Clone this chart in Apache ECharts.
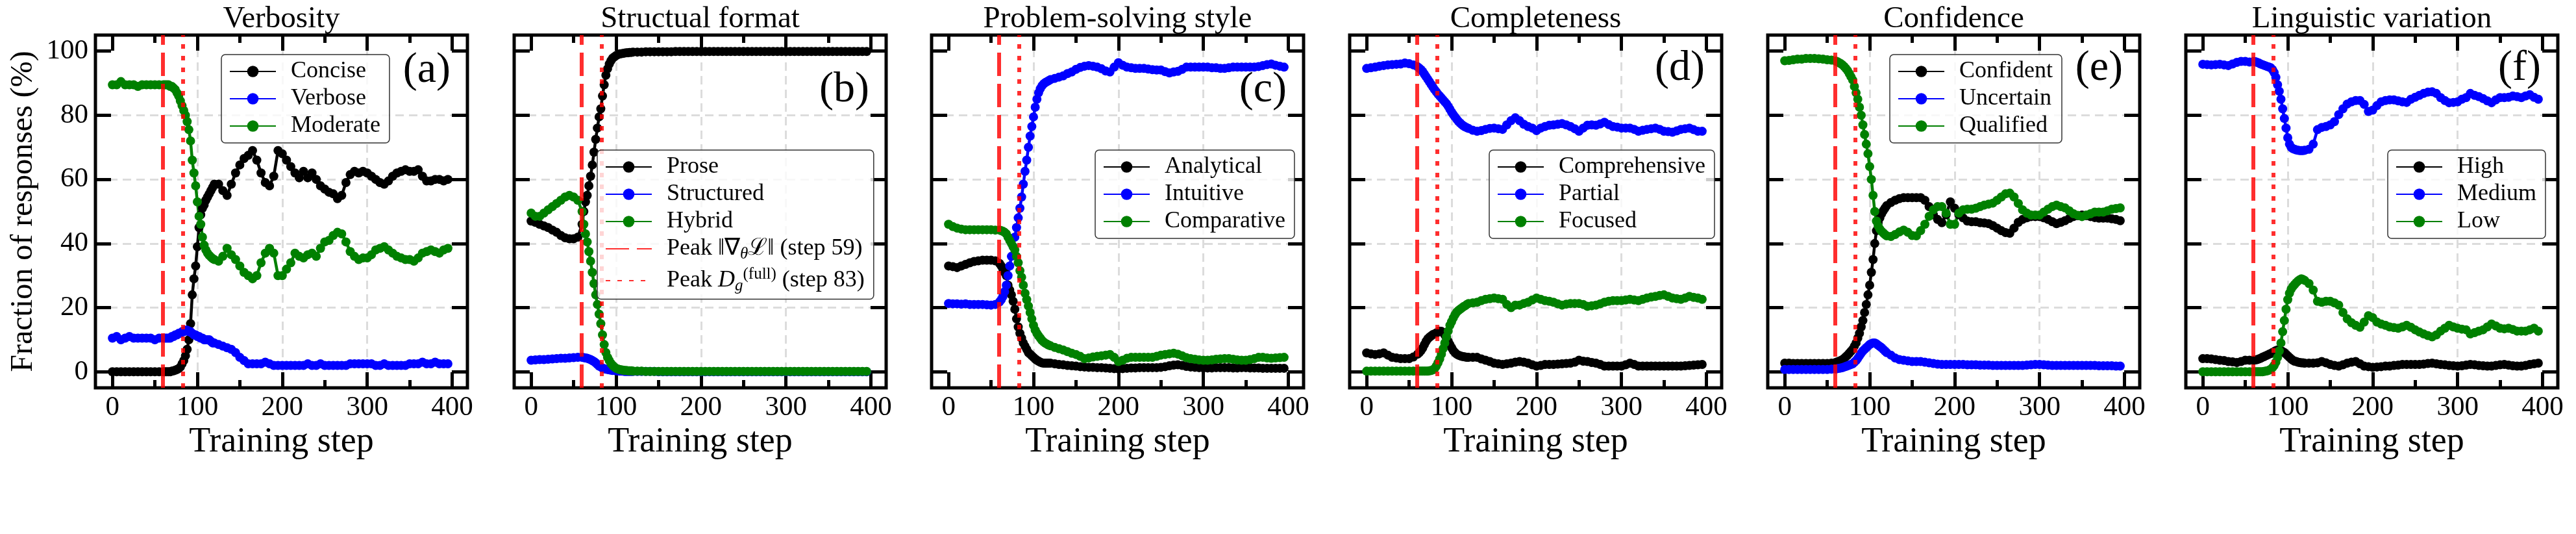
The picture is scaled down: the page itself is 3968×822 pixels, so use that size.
<!DOCTYPE html>
<html>
<head>
<meta charset="UTF-8">
<title>Response style fractions during training</title>
<script src="https://cdn.jsdelivr.net/npm/echarts@6/dist/echarts.min.js"></script>
<style>
    html, body { margin: 0; padding: 0; background: #fff; }
    #chart { width: 3968px; height: 822px; }
</style>
</head>
<body>
<div id="chart"></div>
<script>
// training steps at which every curve is sampled
var steps = [0,5,10,15,20,25,30,35,40,45,50,55,60,
    62,64,66,68,70,72,74,76,78,80,
    82,84,86,88,90,92,94,96,98,100,
    102,104,106,108,110,112,114,116,118,120,
    125,130,135,140,145,150,155,160,165,170,175,
    180,185,190,195,200,205,210,215,220,225,230,
    235,240,245,250,255,260,265,270,275,280,285,
    290,295,300,305,310,315,320,325,330,335,340,
    345,350,355,360,365,370,375,380,385,390,395];

// (a) Verbosity
var concise = [0,0,0,0,0,0,0,0,0,0,0,0,0,
    0,0,0,0,0.2,0.3,0.5,0.7,1,1.5,
    2.5,3.5,5,7,10,15,24,29,33,39,
    45,49,51,52,53.5,54.5,55.5,56.5,57.5,58.5,
    58.5,56.5,55,58.5,62,64.5,66.5,67.5,69,66,62,
    59,58,61,69,68,66,64,62,60.5,62.5,60.5,
    62,60,58,57,56,55.5,54,55,59,61.5,62.5,
    62,62.5,62,61,60,59,58.5,59.5,61,62,62.5,
    63,62.5,62.5,63,61,59.5,59.5,60,60,59.5,60];
var verbose = [10.5,11,10,10.5,11,10.5,10.5,10.5,10.5,10.5,10,10.5,10.5,
    10.5,10.5,10.5,10.5,11,11,11.5,11.5,12,12,
    12.5,12.5,13,13,12.5,12.5,12,11.5,11.5,11,
    11,10.5,10.5,10,10,10,10,9.5,9,9,
    8.5,8,7.5,7,6,4.5,3.5,2.5,2.5,2.5,2.5,
    3,2.5,2,2,2,2,2,2,2,2,2.5,
    2,2,2.5,2,2,2,2,2,2,2.5,2.5,
    2.5,2.5,2.5,2.5,2,2,2.5,2,2,2,2,
    2,2.5,2.5,2.5,3,2.5,2.5,3,2.5,2.5,2.5];
var moderate = [89.5,89.5,90.5,89.5,89.5,89.5,89,89.5,89.5,89.5,89.5,89.5,89.5,
    89.5,89.5,89.5,89,89,88.5,88,87,86,84.5,
    83,81.5,80,78,75.5,72,66,62,58,53,
    48.5,46,42,39.5,38,37,36.3,35.8,35.3,35,
    34.5,36,38.5,36.5,35,33,31,30,29,30,34,
    37,38.5,37,30,30,32,34,37,36,35.5,36.5,
    37,36,38.5,40.5,41,42.5,43.5,43,40.5,37.5,36,
    35,35.5,35.5,36.5,38,38.5,39,38,37,36,35.5,
    35,35,34.5,35.5,37,37.5,38,37.5,37,38,38.5];

// (b) Structual format
var prose = [47,46.6,46,45.5,45,44.2,43.5,42.5,41.8,41.5,41.5,42,46,
    50,53,55,58,61,64.5,68.5,72.5,76,79.5,
    82,86,89.5,92.5,94.5,96,97,97.8,98.2,98.6,
    98.9,99.1,99.2,99.3,99.4,99.5,99.5,99.6,99.6,99.7,
    99.7,99.7,99.8,99.8,99.8,99.8,99.8,99.8,99.8,99.9,99.9,
    99.9,99.9,99.9,99.9,99.9,99.9,99.9,99.9,99.9,99.9,99.9,
    99.9,99.9,99.9,99.9,99.9,99.9,99.9,99.9,99.9,99.9,99.9,
    99.9,99.9,99.9,99.9,99.9,99.9,99.9,99.9,99.9,99.9,99.9,
    99.9,99.9,99.9,99.9,99.9,99.9,99.9,99.9,99.9,99.9,99.9];
var structured = [3.6,3.7,3.8,3.8,3.9,4,4.1,4.2,4.2,4.3,4.4,4.5,4.5,
    4.4,4.3,4.2,4,3.8,3.5,3.2,2.8,2.3,1.8,
    1.5,1.2,1,0.8,0.7,0.6,0.5,0.4,0.4,0.3,
    0.3,0.2,0.2,0.2,0.1,0.1,0.1,0.1,0.1,0.1,
    0.1,0.1,0.1,0.1,0.1,0,0,0,0,0,0,
    0,0,0,0,0,0,0,0,0,0,0,
    0,0,0,0,0,0,0,0,0,0,0,
    0,0,0,0,0,0,0,0,0,0,0,
    0,0,0,0,0,0,0,0,0,0,0];
var hybrid = [49.5,48.5,48.5,49.5,50.5,51.5,52.5,53.5,54.5,55,54.5,53.5,50,
    46,43,40.5,37.5,34.5,31,27.5,24,21,18,
    15,11.5,8.5,6,4.5,3.5,2.6,2,1.5,1.1,
    0.9,0.7,0.6,0.5,0.4,0.4,0.3,0.3,0.3,0.2,
    0.2,0.2,0.1,0.1,0.1,0.1,0.1,0.1,0.1,0.1,0.1,
    0.1,0.1,0.1,0.1,0.1,0.1,0.1,0.1,0.1,0.1,0.1,
    0.1,0.1,0.1,0.1,0.1,0.1,0.1,0.1,0.1,0.1,0.1,
    0.1,0.1,0.1,0.1,0.1,0.1,0.1,0.1,0.1,0.1,0.1,
    0.1,0.1,0.1,0.1,0.1,0.1,0.1,0.1,0.1,0.1,0.1];

// (c) Problem-solving style
var analytical = [33,32.8,32.5,33,33.5,34,34.4,34.6,34.8,34.8,34.8,34.6,33.8,
    33,32,31,30,27,25.5,24,22,19.5,16.5,
    14,12,10.5,9,8,7,6,5.5,5,4.5,
    4,3.6,3.3,3,2.8,2.7,2.7,2.7,2.7,2.7,
    2.5,2.3,2.2,2,1.9,1.8,1.6,1.5,1.4,1.4,1.3,
    1.3,1.2,1.1,1,0.9,1,1.1,1.2,1.2,1.3,1.3,
    1.3,1.3,1.3,1.4,1.6,1.9,2.1,2.2,2,1.7,1.5,
    1.4,1.3,1.2,1.2,1.2,1.3,1.3,1.3,1.3,1.2,1.2,
    1.3,1.3,1.2,1.2,1.2,1.1,1.1,1.1,1.1,1.1,1.1];
var intuitive = [21.3,21.2,21.2,21.1,21.2,21,21,21,21,20.9,20.8,21,21.8,
    22.5,23.5,25,27,30,33,36,39,42,45,
    48,51,54.5,58.5,62.5,66,70,73.5,76.5,79.5,
    82.5,85,87,88.3,89.2,89.8,90.2,90.5,90.8,91.1,
    91.5,91.9,92.3,93,93.5,94.3,94.9,95.3,95.5,95.3,95,
    94.5,93.8,93.5,95,96.4,95.6,95,94.8,94.6,94.6,94.6,
    94.4,94.2,94.1,94.1,93.6,93.2,93.5,93.7,94.3,95,95,
    95,95,95,95,94.8,94.8,94.6,94.6,94.8,95,95,
    95,95,95,95,95.2,95.5,95.8,96,95.6,95.3,95];
var comparative = [46,45.3,44.8,44.5,44.3,44.3,44.3,44.3,44.3,44.3,44.3,44.2,44.2,
    44,43.8,43.5,43,42,41,40,39,38,36,
    34,31.5,29.5,27,24.5,22.5,20.5,18.5,16.5,14.5,
    13,12,11.2,10.5,9.8,9.3,8.9,8.6,8.3,8.1,
    7.6,7.2,6.8,6.3,5.8,5.4,4.8,4.1,4.3,4.6,4.8,
    5,5.2,5.4,4.5,3.2,3.6,4.2,4.5,4.5,4.5,4.5,
    4.5,4.5,4.8,5.2,5.4,5.6,5.8,5.5,5,4.4,4.1,
    3.9,3.7,3.6,3.6,3.7,3.9,4,4.1,4.1,3.9,3.7,
    3.6,3.6,3.8,4.1,4.5,4.5,4.3,4.2,4.3,4.4,4.5];

// (d) Completeness
var comprehensive = [5.9,5.6,5.4,5.6,5.9,5.2,4.5,4.3,4.1,4.1,4.1,4.6,5.5,
    6,6.6,7.4,8.5,9.5,10.3,10.8,11.2,11.6,11.8,
    12.1,12.4,12.7,12.6,12.2,11.5,10.5,9.5,8.5,7.5,
    6.6,6,5.5,5.2,5,4.8,4.7,4.6,4.5,4.5,
    4.5,4.5,4,3.6,3.2,2.7,2.5,2.3,2.5,2.7,3,
    3.2,3,2.7,2.2,1.8,2,2.3,2.3,2.3,2.4,2.5,
    2.6,2.7,3,3.6,3.3,3.2,2.9,2.7,2.3,1.8,1.8,
    1.8,1.8,1.8,2.2,2.7,2.3,1.8,1.8,1.8,1.8,1.8,
    1.8,1.8,1.8,1.8,1.8,1.8,1.9,2,2.1,2.2,2.3];
var partial = [94.6,94.8,95,95.3,95.5,95.7,95.8,95.9,96,96.3,96.1,95.7,95.1,
    94.7,94.2,93.6,92.8,92,91.2,90.4,89.6,88.8,88,
    87.3,86.6,86,85.4,84.8,84.2,83.6,82.8,81.9,81,
    80.2,79.5,78.8,78.1,77.6,77.1,76.7,76.4,76.1,75.9,
    75.3,75,75.2,75.6,75.9,76,75.8,75.6,77,78.3,79.2,
    78.3,77.2,76.5,76,75.2,76,76.5,76.9,77,77.2,77.4,
    77,76.5,75.8,75,76,76.9,77,76.9,77.3,77.8,77.1,
    76.5,76.3,76,76,76,75.6,75,75.3,75.6,75.8,76,
    75.6,75,74.9,74.7,75.1,75.6,75.8,76,75.5,75,75];
var focused = [0.2,0.2,0.2,0.2,0.2,0.2,0.2,0.2,0.2,0.2,0.2,0.2,0.2,
    0.2,0.2,0.2,0.2,0.2,0.2,0.3,0.4,0.6,1,
    1.8,2.8,4,5.5,7.2,9,10.9,12.7,14.5,15.6,
    16.8,17.8,18.6,19.1,19.5,19.9,20.3,20.6,21,21.3,
    21.5,21.7,22.2,22.6,22.8,23,22.8,22.6,21,20,20.8,
    20.8,21.3,21.7,22.4,23,22.6,22.2,22,21.7,21.2,20.8,
    21.1,21.3,21.3,21.3,21,20.4,20.6,20.8,21.2,21.7,22,
    22.2,22.2,22.2,22.4,22.6,22.4,22.2,22.6,23,23.3,23.5,
    23.8,24,23.5,23,22.8,22.6,23,23.5,23.2,23,22.6];

// (e) Confidence
var confident = [2.7,2.7,2.6,2.6,2.6,2.6,2.6,2.6,2.6,2.6,2.6,2.7,2.9,
    3.1,3.3,3.5,3.8,4.2,4.7,5.2,5.8,6.4,7,
    8,9,10.5,12,14,16,18.5,21,24,27,
    31,35,40,44,46.5,48,49.3,50.2,51,51.8,
    52.8,53.5,54,54.3,54.3,54.3,54.3,54.3,53.5,51.5,49,
    47.5,46.5,49,53,51,49,48,47,46.8,46.8,46.5,
    46.4,46.2,45.6,44.8,44,43.4,43.2,44.8,46.6,47.5,48,
    48.4,48.4,48.4,48,47.5,46.8,46.2,46.6,47.1,47.8,48.4,
    48.7,48.9,48.7,48.4,48.1,47.9,47.9,47.9,47.7,47.5,47.1];
var uncertain = [0.7,0.7,0.7,0.7,0.7,0.7,0.7,0.7,0.7,0.7,0.7,0.8,0.9,
    1,1.1,1.2,1.3,1.5,1.7,1.9,2.1,2.3,2.5,
    3,3.5,4.2,5,5.8,6.5,7,7.5,8,8.5,
    8.8,9,9,8.7,8.3,7.9,7.5,7,6.5,6,
    5.2,4.3,3.8,3.6,3.4,3.2,3.2,3.2,3,2.8,2.6,
    2.4,2.3,2.3,2.3,2.3,2.3,2.3,2.2,2.2,2.2,2.1,
    2.1,2.1,2,2,2,2,2,2,2,2,2.1,
    2.2,2.3,2.3,2.2,2.1,2,2,2,2,2,2,
    2,2,2,2,2,1.9,1.9,1.9,1.9,1.8,1.8];
var qualified = [97,97.1,97.3,97.5,97.5,97.7,97.7,97.7,97.6,97.5,97.3,97.2,96.9,
    96.7,96.4,96.1,95.7,95.2,94.6,93.9,93,92,91,
    89,87,85,82.5,80,77,74,71,68,64,
    60,55,50,47,45.5,44.5,43.8,43.3,42.8,42.4,
    42.2,42.8,43.6,44.2,43.5,42.5,42.4,44,46,48.5,50.5,
    51.5,51.5,49.5,46,46,49.5,50.5,50.7,50.7,51,51.5,
    52,52.3,52.6,53.5,54.5,55.5,55.7,54.5,52.5,50.5,49.5,
    48.9,48.9,48.9,49.8,50.7,51.5,52,51.5,51.1,50.2,49.3,
    48.8,48.4,48.9,49.3,49.8,49.8,49.8,50.2,50.7,50.9,51.1];

// (f) Linguistic variation
var high = [4.1,4.1,4,3.8,3.6,3.5,3.2,3.1,2.9,3.2,3.6,3.6,3.6,
    3.7,3.8,4,4.2,4.5,4.7,5,5.2,5.5,5.7,
    6,6.3,6.6,6.8,6.8,6.6,6.3,6,5.5,5,
    4.5,4,3.6,3.3,3.2,3,2.9,2.8,2.8,2.7,
    2.7,2.7,2.8,3.2,2.8,2.3,2,1.8,2.2,2.7,3,
    3.2,2.5,1.8,1.6,1.4,1.5,1.6,1.8,1.8,2,2.1,
    2.3,2.3,2.3,2.3,2.3,2.4,2.6,2.7,2.5,2.3,2.2,
    2,1.9,1.8,1.9,2.1,2.3,2.2,2,1.9,1.8,1.8,
    2,2.2,2.3,2.1,1.9,1.8,1.8,2,2.3,2.5,2.7];
var medium = [95.9,95.8,95.7,95.8,95.9,95.7,95.5,96,96.5,96.8,96.8,96.6,96.8,
    96.7,96.5,96.3,96,95.8,95.6,95.4,95.2,95,94.8,
    94.2,93.3,91.8,89.5,87.5,85,82,79,76,73,
    71,70,69.6,69.4,69.2,69.1,69,69,69,69.1,
    69.4,71,75.5,76.2,76.5,77,78,80.2,82,83.5,84.2,
    84.6,84.6,83.4,81.2,81.6,83,84.2,84.6,84.8,84.8,84.5,
    84.2,84,85,85.6,86.2,86.8,87.2,87.3,86.8,85.5,84.6,
    83.9,84,84.2,85,85.5,86.8,86.2,85.8,85.2,84.5,83.9,
    84.8,85.5,85.5,85.6,86,85.8,85.5,86,86.4,85.6,85];
var low = [0,0,0,0,0,0,0,0,0,0,0,0,0,
    0,0,0,0,0,0.1,0.2,0.3,0.5,0.8,
    1.3,2,3,4.5,6.5,9,12.5,16,19.5,22.5,
    24.5,25.8,26.6,27.2,27.8,28.3,28.7,29,28.8,28.5,
    27.5,25.5,22,21.7,22,22,21.5,20.8,18.5,16.5,15.3,
    14.5,13.9,15.5,17.5,16.9,15.5,14.9,14.5,14,13.8,13.6,
    14,14.5,13.9,13.1,12.4,11.8,11.3,10.9,11.5,12.7,13.6,
    14.5,14,13.6,13.3,13.1,11.8,12.2,12.7,13.1,14,14.9,
    14.3,13.6,13.4,13.6,13.2,12.7,12.7,12.7,13.1,13.6,12.7];

var peakGradStep = 59;
var peakDgStep = 83;
var xTicks = [0, 100, 200, 300, 400];
var xMinorTicks = [50, 150, 250, 350];
var yTicks = [0, 20, 40, 60, 80, 100];

var serif = 'Liberation Serif';
var lineColors = ['#000000', '#0000ff', '#008000'];
var red = 'rgba(255, 0, 0, 0.82)';
var gradName = 'Peak grad (step 59)';
var dgName = 'Peak Dg (step 83)';

var gridLefts = [147, 792, 1435, 2079, 2723, 3367];
var gridTop = 54, gridW = 573, gridH = 543;

var panels = [
    {title: 'Verbosity', tag: '(a)', names: ['Concise', 'Verbose', 'Moderate'],
     values: [concise, verbose, moderate], legendLeft: 341, legendTop: 84, tagTop: 76},
    {title: 'Structual format', tag: '(b)', names: ['Prose', 'Structured', 'Hybrid'],
     values: [prose, structured, hybrid], legendLeft: 920, legendTop: 231, tagTop: 106, peaks: true},
    {title: 'Problem-solving style', tag: '(c)', names: ['Analytical', 'Intuitive', 'Comparative'],
     values: [analytical, intuitive, comparative], legendLeft: 1687, legendTop: 231, tagTop: 106},
    {title: 'Completeness', tag: '(d)', names: ['Comprehensive', 'Partial', 'Focused'],
     values: [comprehensive, partial, focused], legendLeft: 2294, legendTop: 231, tagTop: 73},
    {title: 'Confidence', tag: '(e)', names: ['Confident', 'Uncertain', 'Qualified'],
     values: [confident, uncertain, qualified], legendLeft: 2911, legendTop: 84, tagTop: 73},
    {title: 'Linguistic variation', tag: '(f)', names: ['High', 'Medium', 'Low'],
     values: [high, medium, low], legendLeft: 3678, legendTop: 231, tagTop: 73}
];

function xAxisDef(gi, pos, ticks, len, main) {
    return {
        type: 'value', gridIndex: gi, position: pos, min: -20, max: 418,
        axisLine: {show: false, onZero: false},
        axisTick: {show: true, inside: true, length: len, customValues: ticks,
                   lineStyle: {color: '#000', width: 5}},
        axisLabel: main ? {show: true, customValues: ticks, fontFamily: serif, fontSize: 43,
                           color: '#000', margin: 9} : {show: false},
        splitLine: main ? {show: true, showMinLine: false, showMaxLine: false,
                           lineStyle: {color: '#dcdcdc', width: 3, type: [13, 8]}} : {show: false},
        name: main ? 'Training step' : '',
        nameLocation: 'middle', nameGap: 48,
        nameTextStyle: {fontFamily: serif, fontSize: 54, color: '#000'}
    };
}

function yAxisDef(gi, pos, main, named) {
    return {
        type: 'value', gridIndex: gi, position: pos, min: -5, max: 105,
        axisLine: {show: false, onZero: false},
        axisTick: {show: true, inside: true, length: 24, customValues: yTicks,
                   lineStyle: {color: '#000', width: 5}},
        axisLabel: {show: named, customValues: yTicks, fontFamily: serif, fontSize: 43,
                    color: '#000', margin: 11},
        splitLine: main ? {show: true, showMinLine: false, showMaxLine: false,
                           lineStyle: {color: '#dcdcdc', width: 3, type: [13, 8]}} : {show: false},
        name: named ? 'Fraction of responses (%)' : '',
        nameLocation: 'middle', nameGap: 87,
        nameTextStyle: {fontFamily: serif, fontSize: 48, color: '#000'}
    };
}

function peakSeries(name, step, dash, xi, yi) {
    return {
        type: 'line', name: name, xAxisIndex: xi, yAxisIndex: yi, data: [],
        symbol: 'none', z: 6,
        lineStyle: {color: red, width: 6, type: dash},
        itemStyle: {color: red},
        markLine: {
            silent: true, symbol: ['none', 'none'], label: {show: false},
            lineStyle: {color: red, width: 6, type: dash},
            data: [{xAxis: step}]
        }
    };
}

var grids = [], xAxes = [], yAxes = [], series = [], legends = [], titles = [];

panels.forEach(function (p, i) {
    var left = gridLefts[i];
    grids.push({left: left, top: gridTop, width: gridW, height: gridH,
                show: true, borderColor: '#000', borderWidth: 5, backgroundColor: 'transparent'});
    var xi = xAxes.length, yi = yAxes.length;
    xAxes.push(xAxisDef(i, 'bottom', xTicks, 24, true));
    xAxes.push(xAxisDef(i, 'bottom', xMinorTicks, 12, false));
    xAxes.push(xAxisDef(i, 'top', xTicks, 24, false));
    xAxes.push(xAxisDef(i, 'top', xMinorTicks, 12, false));
    yAxes.push(yAxisDef(i, 'left', true, i === 0));
    yAxes.push(yAxisDef(i, 'right', false, false));

    p.values.forEach(function (vals, k) {
        series.push({
            type: 'line', name: p.names[k], xAxisIndex: xi, yAxisIndex: yi,
            data: steps.map(function (s, j) { return [s, vals[j]]; }),
            symbol: 'circle', symbolSize: 14, showSymbol: true, z: 3,
            lineStyle: {color: lineColors[k], width: 4.5},
            itemStyle: {color: lineColors[k]}
        });
    });
    series.push(peakSeries(gradName, peakGradStep, [36, 12], xi, yi));
    series.push(peakSeries(dgName, peakDgStep, [7, 11], xi, yi));

    // the two peak markers only appear in the legend of panel (b), drawn as bare lines
    var legendData = p.names.slice();
    if (p.peaks) {
        legendData.push({name: gradName, itemStyle: {opacity: 0}});
        legendData.push({name: dgName, itemStyle: {opacity: 0}});
    }

    legends.push({
        left: p.legendLeft, top: p.legendTop, orient: 'vertical',
        data: legendData,
        itemWidth: 71, itemHeight: 22, itemGap: 6,
        padding: [8, 14, 8, 12],
        backgroundColor: 'rgba(255,255,255,0.8)',
        borderColor: '#333', borderWidth: 1.5, borderRadius: 6,
        selectedMode: false, z: 10,
        formatter: function (name) {
            if (name === gradName) return 'Peak \u2016\u2207{sub|\u03b8}\u2112\u2016 (step 59)';
            if (name === dgName) return 'Peak {it|D}{sub|g}{sup|(full)} (step 83)';
            return name;
        },
        textStyle: {
            fontFamily: serif, fontSize: 36, color: '#000', lineHeight: 34,
            padding: [0, 0, 0, 18],
            rich: {
                sub: {fontFamily: serif, fontSize: 25, fontStyle: 'italic', color: '#000', padding: [16, 0, 0, 0]},
                it: {fontFamily: serif, fontSize: 36, fontStyle: 'italic', color: '#000'},
                sup: {fontFamily: serif, fontSize: 25, color: '#000', padding: [0, 0, 20, 0]}
            }
        }
    });

    titles.push({
        text: p.title, left: left + gridW / 2, top: 6, textAlign: 'center', padding: 0,
        textStyle: {fontFamily: serif, fontSize: 47, fontWeight: 'normal', color: '#000'}
    });
    titles.push({
        text: p.tag, left: left + gridW - 26, top: p.tagTop, textAlign: 'right', padding: 0,
        textStyle: {fontFamily: serif, fontSize: 66, fontWeight: 'normal', color: '#000'}
    });
});

var myChart = echarts.init(document.getElementById('chart'), null, {renderer: 'canvas'});
myChart.setOption({
    animation: false,
    backgroundColor: '#ffffff',
    title: titles,
    legend: legends,
    grid: grids,
    xAxis: xAxes,
    yAxis: yAxes,
    series: series
});
</script>
</body>
</html>
